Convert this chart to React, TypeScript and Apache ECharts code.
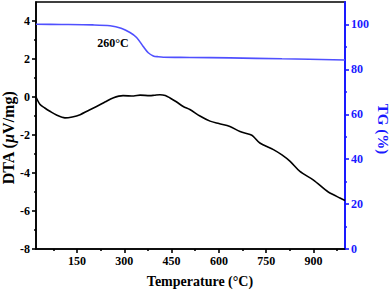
import React, { useEffect, useRef } from 'react';
import * as echarts from 'echarts';

const dtaTemps = [20, 33, 48, 64, 85, 112, 135, 160, 185, 212, 240, 264, 296, 330, 350, 381, 395, 413, 430, 445, 465, 487, 508, 540, 572, 600, 635, 667, 699, 709, 730, 773, 800, 826, 857, 899, 937, 947, 984, 1000];
const dtaValues = [0, -0.4, -0.58, -0.75, -0.95, -1.1, -1.05, -0.93, -0.72, -0.5, -0.25, -0.05, 0.07, 0.05, 0.1, 0.07, 0.09, 0.12, 0.08, -0.05, -0.25, -0.5, -0.66, -1.0, -1.27, -1.4, -1.55, -1.82, -1.98, -2.07, -2.42, -2.77, -3.05, -3.39, -3.92, -4.36, -4.88, -5.0, -5.32, -5.45];
const tgTemps = [20, 100, 200, 255, 290, 318, 339, 360, 376, 392, 408, 424, 508, 635, 800, 1000];
const tgValues = [100.1, 100.0, 99.8, 99.4, 98.3, 96.4, 94.2, 90.2, 87.4, 86.0, 85.6, 85.4, 85.3, 85.1, 84.7, 84.2];

const xMajorTicks = [150, 300, 450, 600, 750, 900];
const xMinorTicks = [75, 225, 375, 525, 675, 825, 975];
const dtaMajorTicks = [-8, -6, -4, -2, 0, 2, 4];
const dtaMinorTicks = [-7, -5, -3, -1, 1, 3];
const tgMajorTicks = [0, 20, 40, 60, 80, 100];
const tgMinorTicks = [10, 30, 50, 70, 90];

const xTitle = 'Temperature (°C)';
const tgTitle = 'TG (%)';
const annotation = '260°C';

export default function App() {
  const ref = useRef<HTMLDivElement>(null);
  useEffect(() => {
    document.body.style.margin = '0';
    const chart = echarts.init(ref.current!, null, { renderer: 'svg' });
    const font = 'Liberation Serif';
    const black = '#000';
    const blue = '#1a1aff';
    const lw = 1.6;
    const label = (color: string, values: number[]) => ({
      customValues: values,
      fontFamily: font,
      fontWeight: 'bold',
      fontSize: 12,
      color,
      margin: 6,
    });
    chart.setOption({
      animation: false,
      grid: { left: 36, right: 47, top: 2, bottom: 41, show: true, borderColor: black, borderWidth: lw, outerBoundsMode: 'none', containLabel: false },
      xAxis: [
        {
          type: 'value', min: 20, max: 1000, position: 'bottom',
          axisLine: { show: true, onZero: false, lineStyle: { color: black, width: lw } },
          axisTick: { show: true, customValues: xMajorTicks, length: 4, lineStyle: { color: black, width: lw } },
          axisLabel: label(black, xMajorTicks),
          splitLine: { show: false },
        },
        {
          type: 'value', min: 20, max: 1000, position: 'bottom',
          axisLine: { show: false, onZero: false },
          axisTick: { show: true, customValues: xMinorTicks, length: 2, lineStyle: { color: black, width: lw } },
          axisLabel: { show: false },
          splitLine: { show: false },
        },
      ],
      yAxis: [
        {
          type: 'value', min: -8, max: 5, position: 'left',
          axisLine: { show: true, onZero: false, lineStyle: { color: black, width: lw } },
          axisTick: { show: true, customValues: dtaMajorTicks, length: 4, lineStyle: { color: black, width: lw } },
          axisLabel: label(black, dtaMajorTicks),
          splitLine: { show: false },
        },
        {
          type: 'value', min: 0, max: 110, position: 'right',
          axisLine: { show: true, onZero: false, lineStyle: { color: blue, width: 2 } },
          axisTick: { show: true, customValues: tgMajorTicks, length: 4, lineStyle: { color: blue, width: lw } },
          axisLabel: label(blue, tgMajorTicks),
          splitLine: { show: false },
        },
        {
          type: 'value', min: -8, max: 5, position: 'left',
          axisLine: { show: false, onZero: false },
          axisTick: { show: true, customValues: dtaMinorTicks, length: 2, lineStyle: { color: black, width: lw } },
          axisLabel: { show: false },
          splitLine: { show: false },
        },
        {
          type: 'value', min: 0, max: 110, position: 'right',
          axisLine: { show: false, onZero: false },
          axisTick: { show: true, customValues: tgMinorTicks, length: 2, lineStyle: { color: blue, width: lw } },
          axisLabel: { show: false },
          splitLine: { show: false },
        },
      ],
      series: [
        {
          type: 'line', name: 'DTA', xAxisIndex: 0, yAxisIndex: 0,
          data: dtaTemps.map((t, i) => [t, dtaValues[i]]),
          showSymbol: false, smooth: 0.3,
          lineStyle: { color: black, width: 1.6 },
        },
        {
          type: 'line', name: 'TG', xAxisIndex: 0, yAxisIndex: 1,
          data: tgTemps.map((t, i) => [t, tgValues[i]]),
          showSymbol: false, smooth: 0.3,
          lineStyle: { color: '#5050ff', width: 1.6 },
        },
      ],
      graphic: [
        {
          type: 'text', x: 113, y: 42.5,
          style: { text: annotation, fontFamily: font, fontWeight: 'bold', fontSize: 12, fill: black, align: 'center', verticalAlign: 'middle' },
        },
        {
          type: 'text', x: 200, y: 281.5,
          style: { text: xTitle, fontFamily: font, fontWeight: 'bold', fontSize: 14, fill: black, align: 'center', verticalAlign: 'middle' },
        },
        {
          type: 'text', x: 8.5, y: 138, rotation: Math.PI / 2,
          style: {
            text: '{b|DTA (}{i|μ}{b|V/mg)}',
            rich: {
              b: { fontFamily: font, fontWeight: 'bold', fontSize: 16, fill: black },
              i: { fontFamily: font, fontWeight: 'bold', fontStyle: 'italic', fontSize: 16, fill: black },
            },
            align: 'center', verticalAlign: 'middle',
          },
        },
        {
          type: 'text', x: 383, y: 129, rotation: -Math.PI / 2,
          style: { text: tgTitle, fontFamily: font, fontWeight: 'bold', fontSize: 15, fill: blue, align: 'center', verticalAlign: 'middle' },
        },
      ],
    });
    return () => chart.dispose();
  }, []);
  return <div ref={ref} style={{ width: 392, height: 290 }} />;
}
